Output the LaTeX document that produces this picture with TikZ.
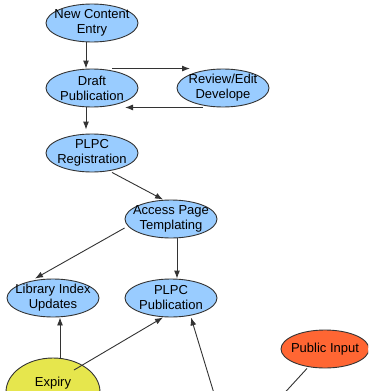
\documentclass[tikz,border=0pt]{standalone}
\usepackage{fontspec}
\setmainfont{Liberation Sans}
\usepackage{xcolor}
\usepackage{tikz}
\usetikzlibrary{shapes.geometric,arrows.meta}

\definecolor{stepblue}{RGB}{153,204,255}
\definecolor{expiryyellow}{RGB}{230,230,77}
\definecolor{inputorange}{RGB}{255,102,51}
\definecolor{edgegray}{RGB}{51,51,51}

\begin{document}
\begin{tikzpicture}[x=1pt,y=-1pt,
        font=\fontsize{13}{15}\selectfont,
        stage/.style={ellipse,draw=edgegray,line width=0.9pt,fill=stepblue,
            minimum width=92pt,minimum height=38pt,inner sep=-10pt,align=center},
        flow/.style={draw=edgegray,line width=0.9pt,-{Latex[length=8pt,width=6pt]}},
        plain/.style={draw=edgegray,line width=0.9pt}]
        \useasboundingbox (0,0) rectangle (368,391);
        \clip (0,0) rectangle (368,391);
        \node (entry) [stage] at (92,23) {New Content\\Entry};
        \node (draft) [stage] at (92,88) {Draft\\Publication};
        \node (review) [stage] at (223,88) {Review/Edit\\Develope};
        \node (registration) [stage] at (92,153) {PLPC\\Registration};
        \node (templating) [stage] at (171,219) {Access Page\\Templating};
        \node (library) [stage] at (53,298) {Library Index\\Updates};
        \node (publication) [stage] at (171,298) {PLPC\\Publication};
        \node (expiry) [stage,fill=expiryyellow,minimum width=94pt,minimum height=68pt,
            label={[yshift=9pt]center:Expiry}] at (53,392) {};
        \node (public) [stage,fill=inputorange,minimum width=88pt] at (325,349) {Public Input};
        \coordinate (offpub) at (216,400);
        \coordinate (offinput) at (279,399);

        \draw [flow] ([xshift=-6pt]entry.south) -- ([xshift=-6pt]draft.north);
        \draw [flow] ([xshift=20pt]draft.north) -- ([xshift=-33pt]review.north);
        \draw [flow] ([xshift=-20pt]review.south) -- ([xshift=33pt]draft.south);
        \draw [flow] ([xshift=-6pt]draft.south) -- ([xshift=-6pt,yshift=4pt]registration.north);
        \draw [flow] ([xshift=20pt]registration.south) -- ([xshift=-8pt]templating.north);
        \draw [flow] ([yshift=-9pt]templating.west) -- ([xshift=-18pt]library.north);
        \draw [flow] ([xshift=6pt]templating.south) -- ([xshift=6pt]publication.north);
        \draw [flow] ([xshift=7pt]expiry.north) -- ([xshift=7pt]library.south);
        \draw [flow] ([xshift=21pt,yshift=22pt]expiry.center) -- ([xshift=-8pt]publication.south);
        \draw [flow] (offpub) -- ([xshift=20pt]publication.south);
        \draw [plain] ([xshift=-18pt]public.south) -- (offinput);
\end{tikzpicture}
\end{document}
